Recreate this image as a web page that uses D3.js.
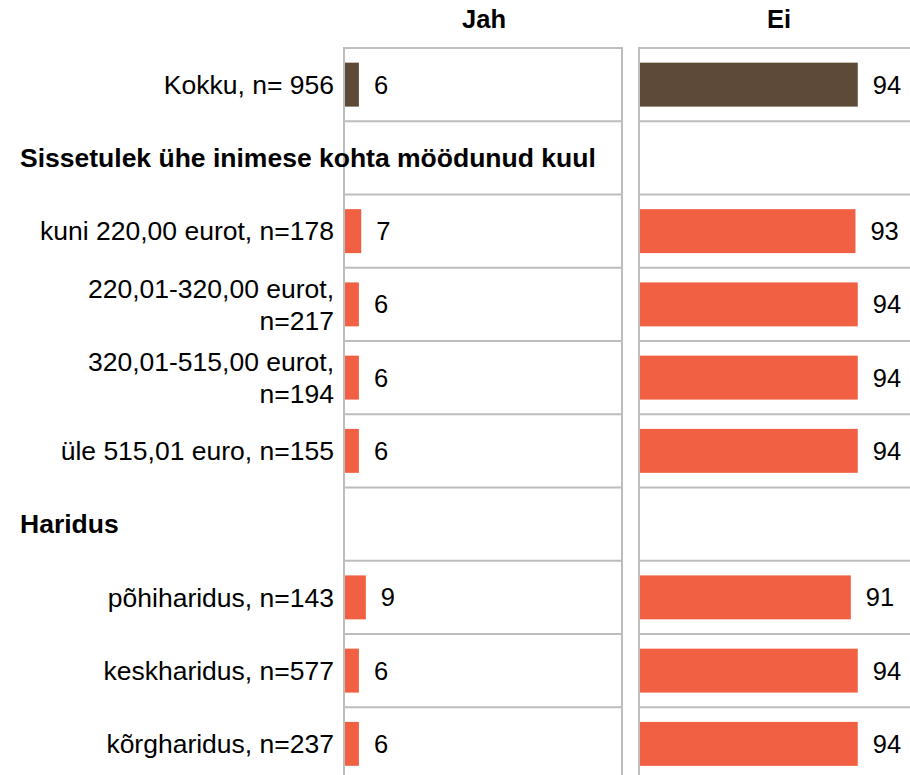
<!DOCTYPE html>
<html>
<head>
<meta charset="utf-8">
<script src="https://cdn.jsdelivr.net/npm/d3@7"></script>
<style>
  body { margin: 0; background: #fff; }
  text { font-family: "Liberation Sans", Arial, sans-serif; fill: #000; }
</style>
</head>
<body>
<div id="my_dataviz"></div>
<script>
// rows of the chart, "\n" marks a wrapped label
var categories = [
  "Kokku, n= 956",
  "Sissetulek ühe inimese kohta möödunud kuul",
  "kuni 220,00 eurot, n=178",
  "220,01-320,00 eurot,\nn=217",
  "320,01-515,00 eurot,\nn=194",
  "üle 515,01 euro, n=155",
  "Haridus",
  "põhiharidus, n=143",
  "keskharidus, n=577",
  "kõrgharidus, n=237"
];
// header rows have no values
var isHeader = [false, true, false, false, false, false, true, false, false, false];
var jahValues = [6, null, 7, 6, 6, 6, null, 9, 6, 6];
var eiValues = [94, null, 93, 94, 94, 94, null, 91, 94, 94];
var seriesNames = ["Jah", "Ei"];

var width = 910, height = 775;
var panelWidth = 278;
var panelLeft = [344, 639];
var plotTop = 48;

var svg = d3.select("#my_dataviz")
  .append("svg")
    .attr("width", width)
    .attr("height", height);

var y = d3.scaleBand()
  .domain(d3.range(categories.length))
  .range([plotTop, plotTop + 73.25 * categories.length])
  .paddingInner(0.4)
  .paddingOuter(0.2);

var x = d3.scaleLinear()
  .domain([0, 120])
  .range([0, panelWidth]);

var gridColor = "#bdbdbd";

// panels
[jahValues, eiValues].forEach(function(values, p) {
  var g = svg.append("g")
    .attr("transform", "translate(" + panelLeft[p] + ",0)");

  // horizontal separators between rows
  g.selectAll("line.grid")
    .data(d3.range(categories.length))
    .enter()
    .append("line")
      .attr("x1", 0)
      .attr("x2", panelWidth)
      .attr("y1", function(i) { return y(i) - y.step() * 0.2; })
      .attr("y2", function(i) { return y(i) - y.step() * 0.2; })
      .attr("stroke", gridColor)
      .attr("stroke-width", 2);

  // side borders
  g.append("line")
    .attr("x1", 0).attr("x2", 0)
    .attr("y1", plotTop - 1).attr("y2", height)
    .attr("stroke", gridColor).attr("stroke-width", 2);
  g.append("line")
    .attr("x1", panelWidth).attr("x2", panelWidth)
    .attr("y1", plotTop - 1).attr("y2", height)
    .attr("stroke", gridColor).attr("stroke-width", 2);

  var rows = d3.range(categories.length).filter(function(i) { return values[i] != null; });

  g.selectAll("rect.bar")
    .data(rows)
    .enter()
    .append("rect")
      .attr("x", 1)
      .attr("y", function(i) { return y(i); })
      .attr("width", function(i) { return x(values[i]); })
      .attr("height", y.bandwidth())
      .attr("fill", function(i) { return i === 0 ? "#5d4a38" : "#f26044"; });

  g.selectAll("text.val")
    .data(rows)
    .enter()
    .append("text")
      .attr("x", function(i) { return x(values[i]) + 16; })
      .attr("y", function(i) { return y(i) + y.bandwidth() / 2; })
      .attr("dy", "0.35em")
      .style("font-size", "25.5px")
      .text(function(i) { return values[i]; });

  svg.append("text")
    .attr("x", panelLeft[p] + panelWidth / 2 + 1)
    .attr("y", 28)
    .attr("text-anchor", "middle")
    .style("font-size", "25.5px")
    .style("font-weight", "bold")
    .text(seriesNames[p]);
});

// row labels
categories.forEach(function(label, i) {
  var cy = y(i) + y.bandwidth() / 2;
  if (isHeader[i]) {
    svg.append("text")
      .attr("x", 20)
      .attr("y", cy)
      .attr("dy", "0.35em")
      .style("font-size", "26.5px")
      .style("font-weight", "bold")
      .text(label);
    return;
  }
  var lines = label.split("\n");
  var t = svg.append("text")
    .attr("text-anchor", "end")
    .style("font-size", "26.5px");
  lines.forEach(function(line, k) {
    t.append("tspan")
      .attr("x", 334)
      .attr("y", cy + (k - (lines.length - 1) / 2) * 32)
      .attr("dy", "0.35em")
      .text(line);
  });
});
</script>
</body>
</html>
